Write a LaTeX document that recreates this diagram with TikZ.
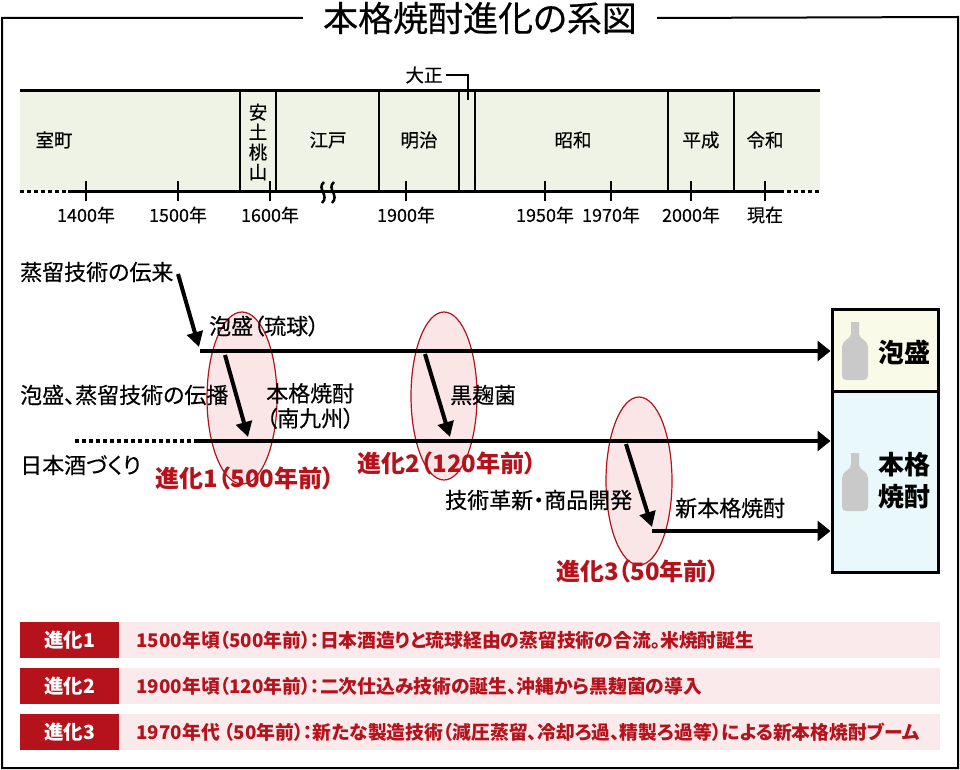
\documentclass[tikz,border=0pt]{standalone}
\usepackage{fontspec}
\setmainfont{Noto Sans CJK JP}[RawFeature=+palt]
\newfontfamily\medfont{Noto Sans CJK JP}[RawFeature=+palt, FakeBold=0.4]
\usetikzlibrary{arrows.meta}
\definecolor{evored}{HTML}{B5121B}
\definecolor{erafill}{HTML}{EEF3E5}
\definecolor{awafill}{HTML}{FAFAE8}
\definecolor{honfill}{HTML}{E9F9FB}
\definecolor{ringfill}{HTML}{FAE6E7}
\definecolor{rowfill}{HTML}{FAEAEC}
\definecolor{bottlegray}{HTML}{C9C9C9}
\tikzset{
	era/.style={font=\medfont\fontsize{18.5}{20}\selectfont},
	yr/.style={font=\medfont\fontsize{18}{19}\selectfont},
	lbl/.style={font=\medfont\fontsize{22}{25}\selectfont, anchor=west, inner sep=0pt},
	evo/.style={font=\bfseries\fontsize{24}{26}\selectfont, text=evored},
	flow/.style={line width=4pt, -{Triangle[length=13pt,width=20pt]}},
	slant/.style={line width=4pt, -{Triangle[length=15pt,width=16pt]}},
	ring/.style={draw=evored, line width=1.2pt, fill=ringfill},
	tag/.style={fill=evored, text=white, minimum width=99pt, minimum height=36pt, font=\bfseries\fontsize{19.5}{21}\selectfont},
	rowtext/.style={anchor=west, text=evored, font=\bfseries\fontsize{18.8}{20}\selectfont},
	bottle/.pic={
		\fill[bottlegray] (-4,0) -- (4,0) -- (4,12) .. controls (4,17) and (13,18) .. (13,25) -- (13,54) .. controls (13,57) and (11,58) .. (8,58) -- (-8,58) .. controls (-11,58) and (-13,57) .. (-13,54) -- (-13,25) .. controls (-13,18) and (-4,17) .. (-4,12) -- cycle;
	}
}
\begin{document}
\begin{tikzpicture}[x=1pt, y=-1pt]
		\useasboundingbox (0,0) rectangle (960,770);
		\node at (480,18) (title) [inner xsep=20pt, font=\medfont\fontsize{35}{36}\selectfont] {本格焼酎進化の系図};
		\draw[line width=2pt] (title.west) -| (2,768) -| (958,17) -- (title.east);
		\fill[erafill] (20,91) rectangle (820,191);
		\draw[line width=3pt] (20,91) -- (820,91);
		\draw[line width=3pt, dash pattern=on 4pt off 3pt] (20,191) -- (68,191);
		\draw[line width=3pt] (68,191) -- (780,191);
		\draw[line width=3pt, dash pattern=on 4pt off 3pt] (780,191) -- (820,191);
		\foreach \x in {240,276,379,459,475,668,734}
			\draw[line width=2.5pt] (\x,91) -- (\x,191);
		\foreach \x/\t in {86/1400年,178/1500年,270/1600年,406/1900年,545/1950年,611/1970年,691/2000年,765/現在} {
			\draw[line width=2.5pt] (\x,181) -- (\x,201);
			\node[yr] at (\x,215) {\t};
		}
		\draw[line width=2.5pt] (324,182) .. controls (316,189) and (330,195) .. (322,203);
		\draw[line width=2.5pt] (334,182) .. controls (326,189) and (340,195) .. (332,203);
		\node[era] at (54,140) (muro) {室町};
		\node[era, align=center] at (258,142) (azu) {安\\土\\桃\\山};
		\node[era] at (328,140) (edo) {江戸};
		\node[era] at (419,140) (mei) {明治};
		\node[era] at (573,140) (sho) {昭和};
		\node[era] at (701,140) (hei) {平成};
		\node[era] at (765,140) (rei) {令和};
		\node[era] at (424,75) (tai) {大正};
		\draw[line width=1.5pt] (tai.east) -| (468,100);
		\draw[ring] (242,398) ellipse [x radius=35pt, y radius=86pt];
		\draw[ring] (444,396) ellipse [x radius=33pt, y radius=84pt];
		\draw[ring] (639,481) ellipse [x radius=33pt, y radius=84pt];
		\node[draw, line width=3pt, fill=awafill, minimum width=106pt, minimum height=82pt] at (885,350) (awabox) {};
		\node[draw, line width=3pt, fill=honfill, minimum width=106pt, minimum height=181pt] at (885,481.5) (honbox) {};
		\pic at (855,322) {bottle};
		\pic at (855,453) {bottle};
		\node at (904,352) (awa) [font=\bfseries\fontsize{26}{30}\selectfont] {泡盛};
		\node at (904,481) (hon) [font=\bfseries\fontsize{26}{32}\selectfont, align=center] {本格\\焼酎};
		\node[lbl] at (20,272) (denrai) {蒸留技術の伝来};
		\node[lbl] at (20,395) (denpa) {泡盛、蒸留技術の伝播};
		\node[lbl] at (20,465) (sake) {日本酒づくり};
		\node[lbl] at (209,326) (ryu) {泡盛（琉球）};
		\node[lbl, align=left] at (266,406) (minami) {本格焼酎\\（南九州）};
		\node[lbl] at (450,395) (kuro) {黒麹菌};
		\node[lbl] at (445,500) (kaku) {技術革新・商品開発};
		\node[lbl] at (675,508) (shin) {新本格焼酎};
		\node[evo] at (245,478) (evo1) {進化1（500年前）};
		\node[evo] at (447,463) (evo2) {進化2（120年前）};
		\node[evo] at (638,571) (evo3) {進化3（50年前）};
		\coordinate (s1) at (178,274);
		\coordinate (e1) at (199,347);
		\coordinate (a0) at (200,351);
		\coordinate (s2) at (225,355);
		\coordinate (e2) at (248,437);
		\coordinate (d0) at (75,441);
		\coordinate (h0) at (195,441);
		\coordinate (s3) at (425,354);
		\coordinate (e3) at (450,437);
		\coordinate (s4) at (626,444);
		\coordinate (e4) at (652,527);
		\coordinate (n0) at (652,531);
		\draw[line width=4pt, dash pattern=on 4pt off 3pt] (d0) -- (h0);
		\draw[flow] (a0) -- (awabox.west |- a0);
		\draw[flow] (h0) -- (honbox.west |- h0);
		\draw[flow] (n0) -- (honbox.west |- n0);
		\draw[slant] (s1) -- (e1);
		\draw[slant] (s2) -- (e2);
		\draw[slant] (s3) -- (e3);
		\draw[slant] (s4) -- (e4);
		\foreach \y/\i/\d in {640/1/{1500年頃（500年前）：日本酒造りと琉球経由の蒸留技術の合流。米焼酎誕生},686/2/{1900年頃（120年前）：二次仕込み技術の誕生、沖縄から黒麹菌の導入},732/3/{1970年代 （50年前）：新たな製造技術（減圧蒸留、冷却ろ過、精製ろ過等）による新本格焼酎ブーム}} {
			\fill[rowfill] (119,\y-18) rectangle (940,\y+18);
			\node[tag] at (69.5,\y) (tag\i) {進化\i};
			\node[rowtext] at (133,\y) (row\i) {\d};
		}
	\end{tikzpicture}
\end{document}
